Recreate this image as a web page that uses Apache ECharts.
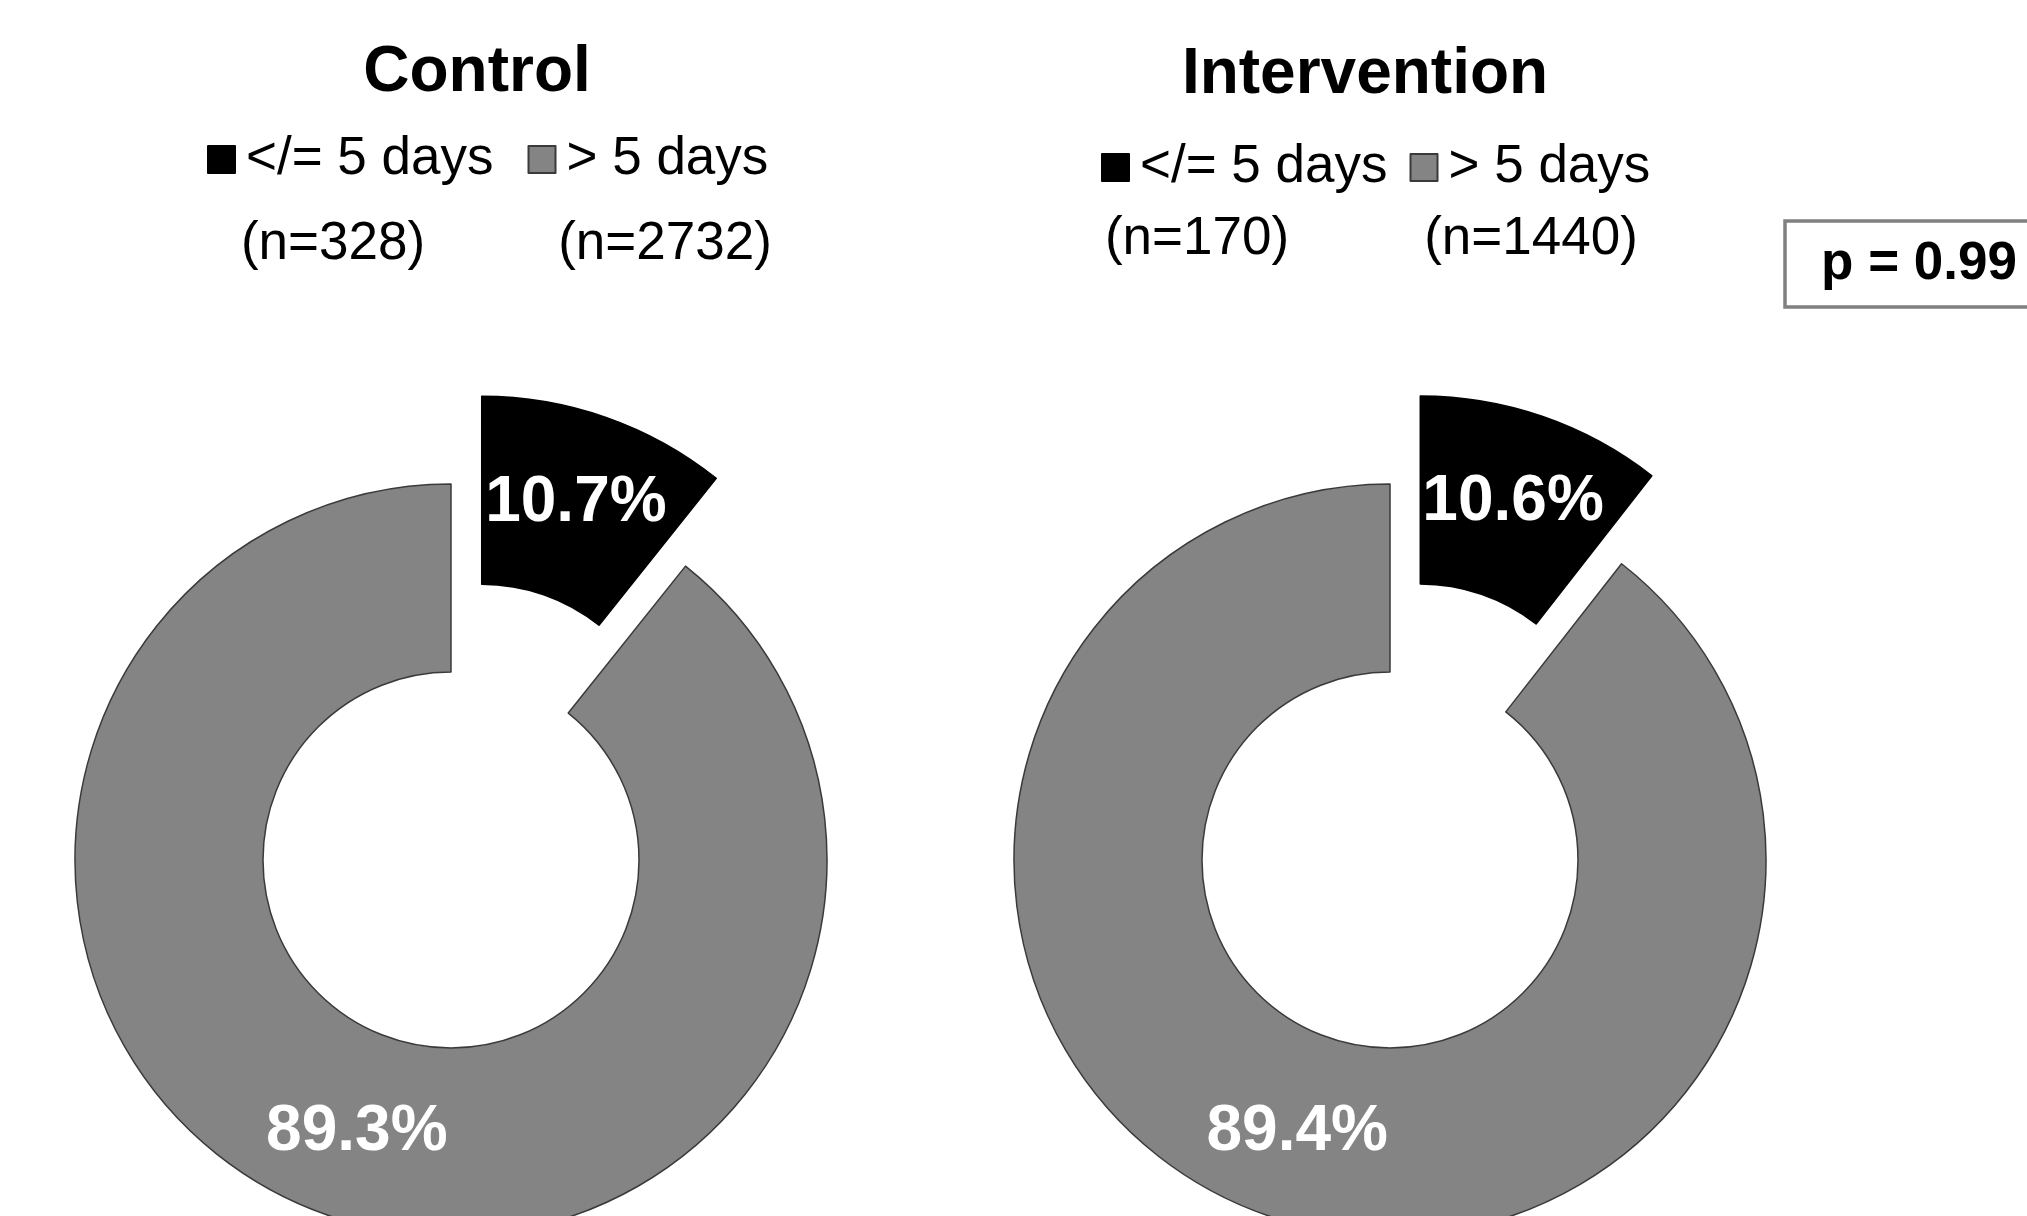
<!DOCTYPE html>
<html>
<head>
<meta charset="utf-8">
<script src="https://cdn.jsdelivr.net/npm/echarts@6/dist/echarts.min.js"></script>
<style>
  html, body { margin: 0; padding: 0; background: #fff; }
  #chart { width: 2027px; height: 1216px; }
</style>
</head>
<body>
<div id="chart"></div>
<script>
// data
var categories = ['</= 5 days', '> 5 days'];
var groups = ['Control', 'Intervention'];
var controlCounts = [328, 2732];
var interventionCounts = [170, 1440];
var pValue = 'p = 0.99';

var FONT = '"Liberation Sans", Arial, sans-serif';
var sliceColors = ['#000000', '#848484'];

// 一个环形图
function buildPie(name, counts, cx) {
  return {
    name: name,
    type: 'pie',
    center: [cx, 860],
    radius: [188, 376],
    startAngle: 90,
    clockwise: true,
    selectedMode: 'single',
    selectedOffset: 93,
    percentPrecision: 1,
    animation: false,
    emphasis: { disabled: true },
    label: {
      show: true,
      position: 'inside',
      formatter: '{d}%',
      color: '#fff',
      fontFamily: FONT,
      fontWeight: 'bold',
      fontSize: 64,
      offset: [0, 3]
    },
    labelLine: { show: false },
    data: categories.map(function (c, i) {
      return {
        name: c,
        value: counts[i],
        selected: i === 0,
        itemStyle: {
          color: sliceColors[i],
          borderColor: i === 0 ? '#000' : '#3a3a3a',
          borderWidth: 1.5
        }
      };
    })
  };
}

function buildLegend(left, top, gap) {
  return {
    left: left,
    top: top,
    padding: 0,
    itemWidth: 27,
    itemHeight: 27,
    itemGap: gap,
    selectedMode: false,
    icon: 'rect',
    data: categories,
    textStyle: {
      fontFamily: FONT,
      fontSize: 53,
      color: '#000',
      padding: [0, 0, 0, 6]
    }
  };
}

function nText(str, x, y) {
  return {
    type: 'text',
    x: x,
    y: y,
    style: {
      text: str,
      fontFamily: FONT,
      fontSize: 53,
      fill: '#000',
      align: 'center',
      verticalAlign: 'middle'
    }
  };
}

var myChart = echarts.init(document.getElementById('chart'));
var option = {
  backgroundColor: '#fff',
  animation: false,
  title: [
    {
      text: groups[0],
      left: 472, top: 68,
      textAlign: 'center', textVerticalAlign: 'middle',
      textStyle: { fontFamily: FONT, fontWeight: 'bold', fontSize: 64, color: '#000' }
    },
    {
      text: groups[1],
      left: 1360, top: 70,
      textAlign: 'center', textVerticalAlign: 'middle',
      textStyle: { fontFamily: FONT, fontWeight: 'bold', fontSize: 64, color: '#000' }
    }
  ],
  legend: [
    buildLegend(207, 133, 34),
    buildLegend(1101, 141, 22)
  ],
  graphic: [
    nText('(n=' + controlCounts[0] + ')', 333, 244),
    nText('(n=' + controlCounts[1] + ')', 665, 244),
    nText('(n=' + interventionCounts[0] + ')', 1197, 239),
    nText('(n=' + interventionCounts[1] + ')', 1531, 239),
    {
      type: 'rect',
      shape: { x: 1785, y: 221, width: 300, height: 86 },
      style: { fill: '#fff', stroke: '#808080', lineWidth: 3.5 }
    },
    {
      type: 'text',
      x: 1919, y: 264,
      style: {
        text: pValue,
        fontFamily: FONT,
        fontWeight: 'bold',
        fontSize: 53,
        fill: '#000',
        align: 'center',
        verticalAlign: 'middle'
      }
    }
  ],
  series: [
    buildPie(groups[0], controlCounts, 451),
    buildPie(groups[1], interventionCounts, 1390)
  ]
};
myChart.setOption(option);
</script>
</body>
</html>
